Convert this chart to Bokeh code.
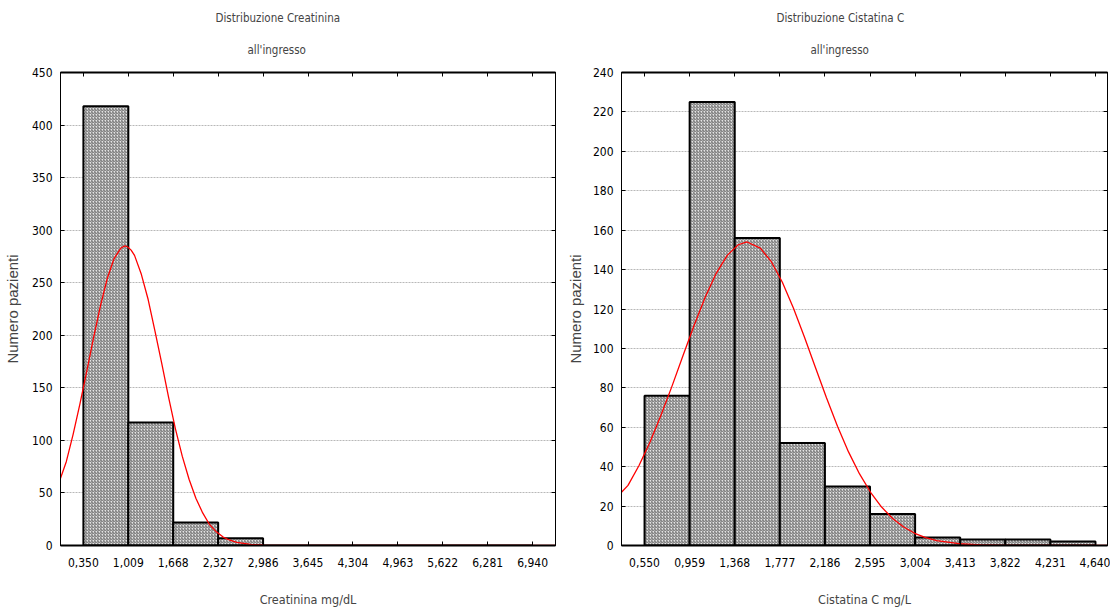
from bokeh.plotting import figure
from bokeh.layouts import row
from bokeh.models import (Range1d, FixedTicker, LinearAxis, Title, CustomJSTickFormatter)
from bokeh.embed import file_html
from bokeh.resources import INLINE

# ---------------- data ----------------
creat_edges = [0.350, 1.009, 1.668, 2.327, 2.986, 3.645, 4.304, 4.963, 5.622, 6.281, 6.940]
creat_counts = [418, 117, 22, 7, 0, 0, 0, 0, 0, 0]
creat_curve_x = [0.014, 0.1, 0.2, 0.3, 0.4, 0.5, 0.6, 0.7, 0.8, 0.9, 0.96, 1.0, 1.05, 1.1, 1.2, 1.3,
                 1.4, 1.5, 1.6, 1.7, 1.8, 1.9, 2.0, 2.1, 2.2, 2.3, 2.4, 2.5, 2.6, 2.8, 3.0, 3.2, 7.276]
creat_curve_y = [64, 80, 106, 135, 166, 198, 228, 254, 273, 283, 285, 284, 281, 276, 258, 234,
                 204, 173, 141, 111, 85, 63, 45, 31, 20, 13, 8, 5, 3, 1, 0.3, 0, 0]

cist_edges = [0.550, 0.959, 1.368, 1.777, 2.186, 2.595, 3.004, 3.413, 3.822, 4.231, 4.640]
cist_counts = [76, 225, 156, 52, 30, 16, 4, 3, 3, 2]
cist_curve_x = [0.341, 0.4, 0.5, 0.6, 0.7, 0.8, 0.9, 1.0, 1.1, 1.2, 1.3, 1.4, 1.48, 1.6, 1.7,
                1.8, 1.9, 2.0, 2.1, 2.2, 2.3, 2.4, 2.5, 2.6, 2.7, 2.8, 2.9, 3.0, 3.1, 3.2,
                3.4, 3.6, 3.8, 4.0, 4.749]
cist_curve_y = [27, 30.5, 40.6, 52.5, 66.2, 81.0, 96.5, 111.8, 126.0, 138.1, 147.2, 152.6, 154,
                150.9, 144.0, 133.6, 120.5, 105.8, 90.3, 75.0, 60.5, 47.5, 36.3, 27.0, 19.5,
                13.7, 9.4, 6.2, 4.0, 2.5, 0.9, 0.3, 0.1, 0, 0]

creat_yticks = [0, 50, 100, 150, 200, 250, 300, 350, 400, 450]
cist_yticks = [0, 20, 40, 60, 80, 100, 120, 140, 160, 180, 200, 220, 240]

NARROW = "'Liberation Sans Narrow', 'Arial Narrow', 'DejaVu Sans Condensed', 'Liberation Sans', sans-serif"
REG = "Liberation Sans"

fmt = CustomJSTickFormatter(code="return tick.toFixed(3).replace('.', ',');")


def blank():
    return CustomJSTickFormatter(code="return '';")


def make_panel(edges, counts, cx, cy, yticks, xr, yr, title1, title2, xlabel,
               width, min_left, min_right, ylab_standoff, off1, off2):
    p = figure(width=width, height=609, x_range=Range1d(*xr), y_range=Range1d(*yr),
               output_backend="svg", toolbar_location=None,
               min_border_left=min_left, min_border_right=min_right,
               min_border_top=72, min_border_bottom=64,
               x_axis_label=xlabel, y_axis_label="Numero pazienti")
    p.title.visible = False
    xa = p.below[0]
    ya = p.left[0]

    # top axis (ticks only) - innermost above element
    ta = LinearAxis(ticker=FixedTicker(ticks=edges), formatter=blank(),
                    major_tick_in=4, major_tick_out=0, minor_tick_line_color=None,
                    axis_line_width=2, major_label_standoff=0, major_label_text_font_size="1px")
    p.add_layout(ta, "above")
    p.add_layout(Title(text=title2, align="left", text_font=NARROW,
                       text_font_size="11.5px", text_font_style="normal",
                       standoff=32, offset=off2), "above")
    p.add_layout(Title(text=title1, align="left", text_font=NARROW, text_font_size="11.5px",
                       text_font_style="normal", standoff=0, offset=off1), "above")

    p.background_fill_color = "white"
    p.border_fill_color = "white"
    p.outline_line_color = "black"
    p.outline_line_width = 1

    p.xgrid.visible = False
    p.ygrid.ticker = FixedTicker(ticks=yticks)
    p.ygrid.grid_line_color = "#b8b8b8"
    p.ygrid.grid_line_dash = "2 1"
    p.ygrid.grid_line_width = 1

    # bottom axis
    xa.ticker = FixedTicker(ticks=edges)
    xa.formatter = fmt
    xa.major_tick_in = 4
    xa.major_tick_out = 0
    xa.minor_tick_line_color = None
    xa.axis_line_width = 2
    xa.major_label_standoff = 12
    xa.major_label_text_font = NARROW
    xa.major_label_text_font_size = "12px"
    xa.major_label_text_color = "black"
    xa.axis_label_text_font = NARROW
    xa.axis_label_text_font_size = "12.5px"
    xa.axis_label_text_font_style = "normal"
    xa.axis_label_standoff = 22

    # left axis
    ya.ticker = FixedTicker(ticks=yticks)
    ya.major_tick_in = 4
    ya.major_tick_out = 0
    ya.minor_tick_line_color = None
    ya.major_label_standoff = 8
    ya.major_label_text_font = NARROW
    ya.major_label_text_font_size = "12px"
    ya.major_label_text_color = "black"
    ya.axis_label_text_font = REG
    ya.axis_label_text_font_size = "15px"
    ya.axis_label_text_font_style = "normal"
    ya.axis_label_standoff = ylab_standoff

    # right axis (ticks only)
    ra = LinearAxis(ticker=FixedTicker(ticks=yticks), formatter=blank(),
                    major_tick_in=4, major_tick_out=0, minor_tick_line_color=None,
                    axis_line_width=1, major_label_standoff=0, major_label_text_font_size="1px")
    p.add_layout(ra, "right")

    p.quad(left=edges[:-1], right=edges[1:], bottom=0, top=counts,
           fill_color="#e4e4e4", hatch_pattern="/", hatch_color="#4a4a4a",
           hatch_scale=3, hatch_weight=0.8, line_color="black", line_width=2)
    p.line(cx, cy, line_color="red", line_width=1.3)
    return p


left = make_panel(creat_edges, creat_counts, creat_curve_x, creat_curve_y, creat_yticks,
                  (0.014, 7.276), (0, 450), "Distribuzione Creatinina", "all'ingresso",
                  "Creatinina mg/dL", 563, 58, 8, 8, 155, 187)
right = make_panel(cist_edges, cist_counts, cist_curve_x, cist_curve_y, cist_yticks,
                   (0.341, 4.749), (0, 240), "Distribuzione Cistatina C", "all'ingresso",
                   "Cistatina C mg/L", 547, 58, 3, 6, 155, 189)

layout = row(left, right)
open("out.html", "w").write(file_html(layout, INLINE))
